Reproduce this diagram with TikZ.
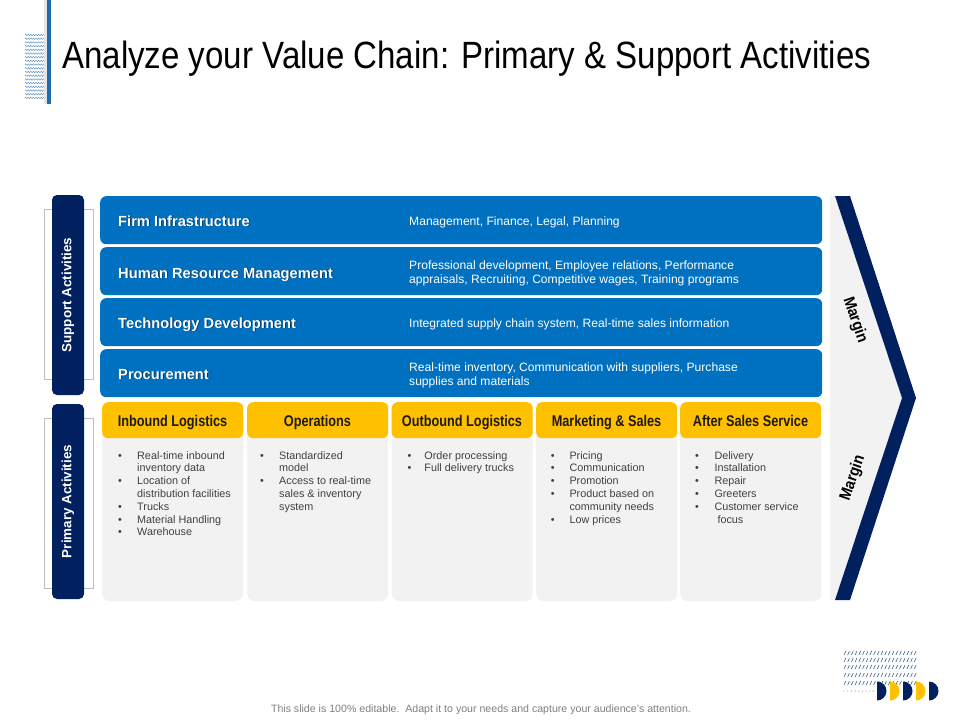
\documentclass[tikz,border=0pt]{standalone}
\usepackage{fontspec}
\setmainfont{Liberation Sans}
\newfontfamily\narrowfont[FakeStretch=0.82]{Liberation Sans}
\newfontfamily\marginfont[FakeStretch=0.9]{Liberation Sans}
\newfontfamily\titlefont[FakeStretch=0.87]{Liberation Sans}
\usetikzlibrary{decorations.pathmorphing}
\definecolor{navy}{HTML}{002060}
\definecolor{rowblue}{HTML}{0070C0}
\definecolor{gold}{HTML}{FFC000}
\definecolor{cardgray}{HTML}{F2F2F2}
\definecolor{bulletgray}{HTML}{404040}
\definecolor{barblue}{HTML}{1F6BB0}
\definecolor{hatchblue}{HTML}{1F4E79}
\definecolor{headtext}{HTML}{1E1A12}
\definecolor{footgray}{HTML}{808080}
\definecolor{shadowblue}{HTML}{06365E}
\newcommand{\shtext}[1]{\makebox[0pt][l]{\hspace{0.9pt}\raisebox{-0.9pt}{\textcolor{shadowblue}{#1}}}#1}
\begin{document}
\begin{tikzpicture}[x=1pt,y=-1pt,
  rowbox/.style={fill=rowblue, rounded corners=6pt, minimum width=722pt, minimum height=48pt, anchor=north west, inner sep=0pt},
  rowtitle/.style={anchor=base west, inner sep=0pt, text=white, font=\bfseries\fontsize{14.7}{17}\selectfont},
  rowdesc/.style={anchor=base west, inner sep=0pt, text=white, font=\fontsize{12.1}{14}\selectfont},
  sidebox/.style={fill=navy, rounded corners=5pt, rotate=90, minimum height=32pt, inner sep=0pt, text=white, font=\bfseries\fontsize{13.4}{16}\selectfont},
  bracket/.style={draw=black!25, line width=0.7pt},
  cardbody/.style={fill=cardgray, rounded corners=8pt, minimum width=141pt, minimum height=199pt, anchor=north west, inner sep=0pt},
  cardhead/.style={fill=gold, rounded corners=6pt, minimum width=141pt, minimum height=36pt, anchor=north west, inner sep=0pt},
  headlabel/.style={anchor=base, inner sep=0pt, text=headtext, font=\narrowfont\bfseries\fontsize{15.5}{18}\selectfont},
  blist/.style={anchor=base west, inner sep=0pt, text=bulletgray, font=\fontsize{10.8}{12.8}\selectfont},
  marginlbl/.style={inner sep=0pt, text=black, font=\marginfont\bfseries\fontsize{16}{18}\selectfont},
  wave/.style={draw=barblue!85, line width=0.35pt, decorate, decoration={zigzag, segment length=2.6pt, amplitude=0.8pt}},
  hatch/.style={draw=hatchblue, line width=0.5pt}
]
\useasboundingbox (0,0) rectangle (960,720);
\fill[white] (0,0) rectangle (960,720);

% top-left decoration
\foreach \i in {0,...,17} {
  \draw[wave] (25,{35+\i*3.7}) -- (46,{35+\i*3.7});
}
\fill[black!10] (44,0) rectangle (47,104);
\fill[barblue] (47,0) rectangle (50.5,104);

% title
\node[anchor=base west, inner sep=0pt, font=\titlefont\fontsize{38}{44}\selectfont] (title) at (62,68) {Analyze your Value Chain: Primary \& Support Activities};

% side labels
\draw[bracket] (44,209) rectangle (93,379);
\draw[bracket] (44,418) rectangle (93,588);
\node[sidebox, minimum width=200pt] (sa) at (68,295) {Support Activities};
\node[sidebox, minimum width=195pt] (pa) at (68,501.5) {Primary Activities};

% support rows
\node[rowbox] (r1) at (100,196) {};
\node[rowbox] (r2) at (100,247) {};
\node[rowbox] (r3) at (100,298) {};
\node[rowbox] (r4) at (100,349) {};

\node[rowtitle] (t1) at (118,226) {\shtext{Firm Infrastructure}};
\node[rowtitle] (t2) at (118,278) {\shtext{Human Resource Management}};
\node[rowtitle] (t3) at (118,328) {\shtext{Technology Development}};
\node[rowtitle] (t4) at (118,379) {\shtext{Procurement}};

\node[rowdesc] (d1) at (409,225) {Management, Finance, Legal, Planning};
\node[rowdesc] (d2) at (409,269) {\begin{tabular}[t]{@{}l@{}}Professional development, Employee relations, Performance\\ appraisals, Recruiting, Competitive wages, Training programs\end{tabular}};
\node[rowdesc] (d3) at (409,327) {Integrated supply chain system, Real-time sales information};
\node[rowdesc] (d4) at (409,371) {\begin{tabular}[t]{@{}l@{}}Real-time inventory, Communication with suppliers, Purchase\\ supplies and materials\end{tabular}};

% margin chevron
\fill[cardgray] (830,196) -- (835,196) -- (902,398) -- (835,600) -- (830,600) -- cycle;
\fill[navy] (835,196) -- (850,196) -- (916,398) -- (850,600) -- (835,600) -- (902,398) -- cycle;
\node[marginlbl, rotate=-71] (m1) at (855,320) {Margin};
\node[marginlbl, rotate=71] (m2) at (853,478) {Margin};

% primary cards
\foreach \cx/\nm in {102/1, 247/2, 391.5/3, 536/4, 680/5} {
  \node[cardbody] (c\nm) at (\cx,402) {};
  \node[cardhead] (h\nm) at (\cx,402) {};
}
\node[headlabel] (hl1) at (172.5,426) {Inbound Logistics};
\node[headlabel] (hl2) at (317.5,426) {Operations};
\node[headlabel] (hl3) at (462,426) {Outbound Logistics};
\node[headlabel] (hl4) at (606.5,426) {Marketing \& Sales};
\node[headlabel] (hl5) at (750.5,426) {After Sales Service};

\node[blist] (l1) at (118,459) {\begin{tabular}[t]{@{}p{19pt}@{}l@{}}
•& Real-time inbound\\ & inventory data\\ •& Location of\\ & distribution facilities\\ •& Trucks\\ •& Material Handling\\ •& Warehouse\end{tabular}};
\node[blist] (l2) at (260,459) {\begin{tabular}[t]{@{}p{19pt}@{}l@{}}
•& Standardized\\ & model\\ •& Access to real-time\\ & sales \& inventory\\ & system\end{tabular}};
\node[blist] (l3) at (407.3,459) {\begin{tabular}[t]{@{}p{17pt}@{}l@{}}
•& Order processing\\ •& Full delivery trucks\end{tabular}};
\node[blist] (l4) at (550.7,459) {\begin{tabular}[t]{@{}p{18.6pt}@{}l@{}}
•& Pricing\\ •& Communication\\ •& Promotion\\ •& Product based on\\ & community needs\\ •& Low prices\end{tabular}};
\node[blist] (l5) at (695,459) {\begin{tabular}[t]{@{}p{19.3pt}@{}l@{}}
•& Delivery\\ •& Installation\\ •& Repair\\ •& Greeters\\ •& Customer service\\ & \ focus\end{tabular}};

% bottom-right decoration
\foreach \r in {653,660,667,675,683} {
  \foreach \x in {844,847.7,...,916} {
    \draw[hatch] (\x,\r+2) -- (\x+1.8,\r-2);
  }
}
\foreach \x in {844,847.7,...,874} {
  \fill[hatchblue] (\x,691) circle (0.45);
}
\foreach \x/\c in {877/navy, 890/gold, 903/navy, 916/gold, 929/navy} {
  \fill[\c] (\x,681.5) -- (\x,700.5) arc[start angle=90, end angle=-90, radius=9.5] -- cycle;
}

% footer
\node[anchor=base, inner sep=0pt, text=footgray, font=\fontsize{10.6}{12}\selectfont] (foot) at (481,712) {This slide is 100\% editable.\ \ Adapt it to your needs and capture your audience's attention.};
\end{tikzpicture}
\end{document}
